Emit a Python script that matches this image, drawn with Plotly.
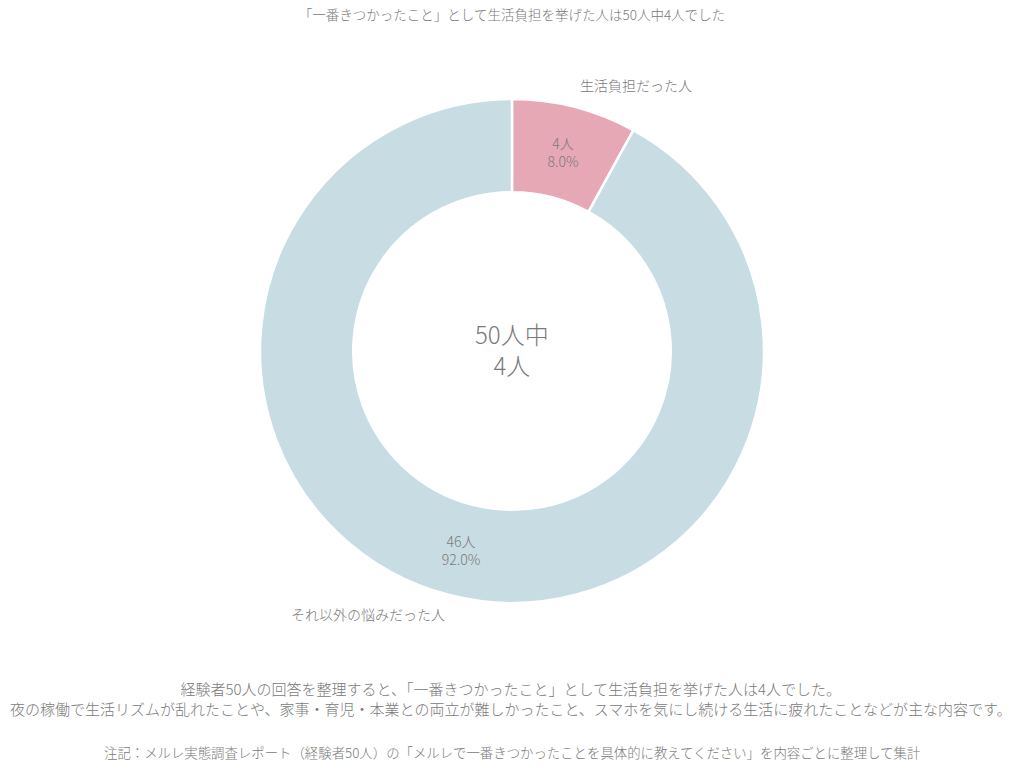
import plotly.graph_objects as go

# データ
labels = ["生活負担だった人", "それ以外の悩みだった人"]
counts = [4, 46]
colors = ["#e7a8b6", "#c8dce3"]

title_text = "「一番きつかったこと」として生活負担を挙げた人は50人中4人でした"
center_text = "50人中<br>4人"
summary_lines = [
    "経験者50人の回答を整理すると、「一番きつかったこと」として生活負担を挙げた人は4人でした。",
    "夜の稼働で生活リズムが乱れたことや、家事・育児・本業との両立が難しかったこと、スマホを気にし続ける生活に疲れたことなどが主な内容です。",
]
note_text = "注記：メルレ実態調査レポート（経験者50人）の「メルレで一番きつかったことを具体的に教えてください」を内容ごとに整理して集計"

FONT = "Noto Sans CJK JP"
GRAY = "#7a7a7a"

W, H = 1024, 773
TOP, BOTTOM = 99, 170


def px(x, y):
    # pixel position -> paper coords
    ph = H - TOP - BOTTOM
    return x / W, (H - BOTTOM - y) / ph


def font(size):
    return dict(family=FONT, size=size, color=GRAY, weight=300)


fig = go.Figure()

fig.add_trace(go.Pie(
    labels=labels,
    values=counts,
    hole=0.63,
    sort=False,
    direction="clockwise",
    rotation=0,
    marker=dict(colors=colors, line=dict(color="white", width=2.5)),
    texttemplate="%{value}人<br>%{percent:.1%}",
    textposition="inside",
    insidetextorientation="horizontal",
    textfont=font(14),
    showlegend=False,
    hoverinfo="label+value+percent",
))

annotations = []


def add_text(text, x, y, size, **kw):
    ax, ay = px(x, y)
    annotations.append(dict(text=text, x=ax, y=ay, xref="paper", yref="paper",
                            xanchor="center", yanchor="middle",
                            showarrow=False, font=font(size), **kw))


add_text(center_text, 512, 349, 24)
add_text(labels[0], 636, 85, 14)
add_text(labels[1], 368, 614, 14)
add_text("<br>".join(summary_lines), 510, 698, 15, align="center")
add_text(note_text, 512, 752, 13.4)

fig.update_layout(
    width=W, height=H,
    title=dict(text=title_text, x=0.5, y=1 - 15 / H, xanchor="center", yanchor="middle",
               font=font(13.5)),
    margin=dict(l=0, r=0, t=TOP, b=BOTTOM),
    paper_bgcolor="white",
    plot_bgcolor="white",
    font=dict(family=FONT, color=GRAY),
    annotations=annotations,
)

fig.write_html("out.html", config={"displayModeBar": False},
               post_script="document.body.style.margin='0';")
